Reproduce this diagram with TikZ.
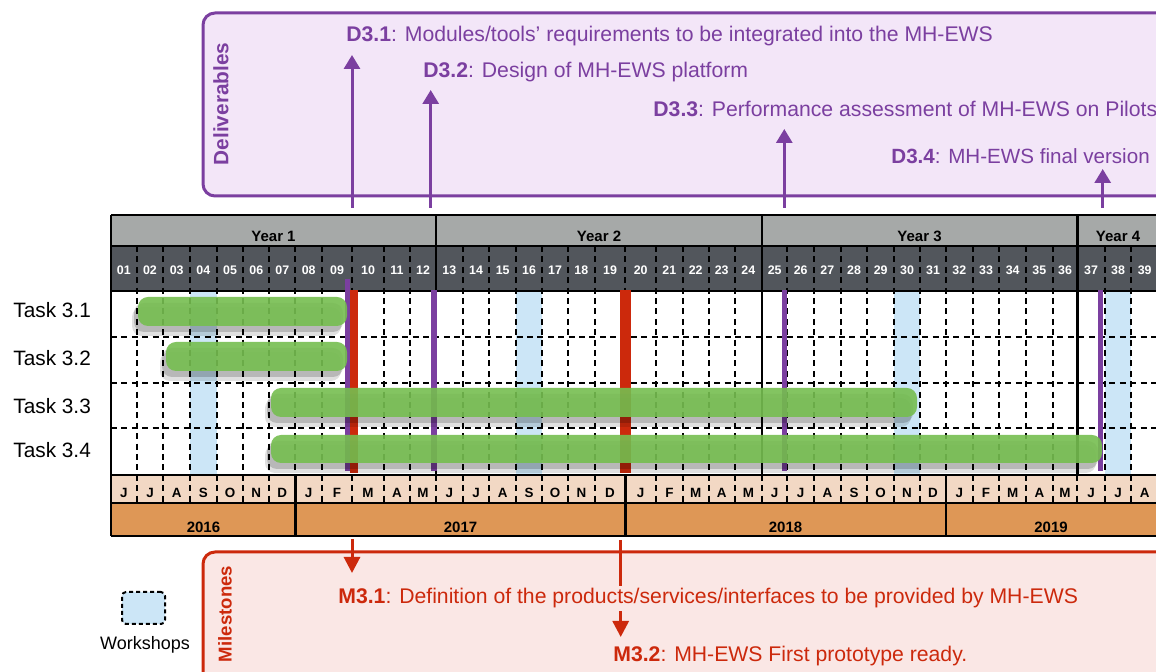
\documentclass[tikz,border=0pt]{standalone}
\usepackage{fontspec}
\setmainfont{Liberation Sans}
\usetikzlibrary{arrows.meta, shadows}

\definecolor{delpurple}{HTML}{7B3FA0}
\definecolor{dellilac}{HTML}{F3E6F8}
\definecolor{msred}{HTML}{CC290C}
\definecolor{mspink}{HTML}{FAE7E5}
\definecolor{yeargray}{HTML}{A6A9A8}
\definecolor{monthgray}{HTML}{52565C}
\definecolor{calpeach}{HTML}{F2D8C4}
\definecolor{calorange}{HTML}{DE9756}
\definecolor{wsblue}{HTML}{CCE6F7}
\definecolor{taskgreen}{HTML}{76BE50}

\tikzstyle{delbox} = [
    rounded corners=6pt,
    line width=1.5pt,
    draw=delpurple,
    fill=dellilac
]
\tikzstyle{msbox} = [
    rounded corners=6pt,
    line width=1.5pt,
    draw=msred,
    fill=mspink
]
\tikzstyle{deltext} = [
    anchor=base west,
    inner sep=0pt,
    text=delpurple,
    font=\fontsize{10.6}{12}\selectfont
]
\tikzstyle{mstext} = [
    anchor=base west,
    inner xsep=0pt,
    inner ysep=1.5pt,
    text=msred,
    fill=mspink,
    font=\fontsize{10.6}{12}\selectfont
]
\tikzstyle{tasklabel} = [
    anchor=base west,
    inner sep=0pt,
    font=\fontsize{10.4}{12}\selectfont
]
\tikzstyle{yearlabel} = [
    anchor=base,
    inner sep=0pt,
    font=\bfseries\fontsize{7.5}{9}\selectfont
]
\tikzstyle{monthnum} = [
    anchor=base,
    inner sep=0pt,
    text=white,
    font=\bfseries\fontsize{6.2}{7}\selectfont
]
\tikzstyle{calmonth} = [
    anchor=base,
    inner sep=0pt,
    font=\bfseries\fontsize{6.7}{8}\selectfont
]
\tikzstyle{gridline} = [line width=1.3pt]
\tikzstyle{dashline} = [line width=1pt, dash pattern=on 3pt off 2.2pt]
\tikzstyle{taskbar} = [
    fill=taskgreen,
    fill opacity=0.9,
    rounded corners=5pt,
    drop shadow={shadow xshift=-3pt, shadow yshift=-5pt, opacity=0.12, fill=black},
    drop shadow={shadow xshift=-2pt, shadow yshift=-3pt, opacity=0.18, fill=black}
]
\tikzstyle{wslegend} = [
    draw,
    dash pattern=on 2pt off 1.5pt,
    line width=1pt,
    fill=wsblue,
    rounded corners=2pt,
    minimum width=21.5pt,
    minimum height=16pt
]
\tikzstyle{delarrow} = [line width=1.5pt, draw=delpurple, -{Triangle[width=8pt,length=7pt]}]
\tikzstyle{msarrow} = [line width=1.5pt, draw=msred, -{Triangle[width=8pt,length=8pt]}]

\begin{document}
\begin{tikzpicture}[x=0.5pt, y=-0.5pt]
\useasboundingbox (0,0) rectangle (1156,672);
\clip (0,0) rectangle (1156,672);

% boxes
\draw [delbox] (203,13) rectangle (1190,196);
\draw [msbox] (203,552) rectangle (1190,700);

% header and calendar rows
\fill [yeargray] (111,215) rectangle (1170,246);
\fill [monthgray] (111,246) rectangle (1170,291);
\fill [calpeach] (111,475) rectangle (1170,503);
\fill [calorange] (111,503) rectangle (1170,536);

% workshops
\foreach \xa/\xb in {190/216.7, 516/542, 894/920, 1104.7/1131.3}
    \fill [wsblue] (\xa,291) rectangle (\xb,475);

% months
\foreach \xa/\xb/\lt [count=\n] in {
    111/136.7/J, 136.7/163.3/J, 163.3/190/A, 190/216.7/S, 216.7/243.3/O,
    243.3/269.3/N, 269.3/295.3/D, 295.3/322/J, 322/352/F, 352/384/M,
    384/410/A, 410/436/M, 436/462.7/J, 462.7/489.3/J, 489.3/516/A,
    516/542/S, 542/568/O, 568/594.7/N, 594.7/625.3/D, 625.3/656/J,
    656/682.7/F, 682.7/708.7/M, 708.7/734.7/A, 734.7/762/M, 762/787.3/J,
    787.3/814/J, 814/840.7/A, 840.7/867.3/S, 867.3/894/O, 894/920/N,
    920/946/D, 946/972.7/J, 972.7/999.3/F, 999.3/1026/M, 1026/1052.7/A,
    1052.7/1077.3/M, 1077.3/1104.7/J, 1104.7/1131.3/J, 1131.3/1158/A} {
    \draw [dashline] (\xb,246) -- (\xb,503);
    \node [monthnum] (mn\n) at ({(\xa+\xb)/2},275) {\ifnum\n<10 0\fi\n};
    \node [calmonth] (cal\n) at ({(\xa+\xb)/2},498) {\lt};
}
\foreach \y in {337,383,428}
    \draw [dashline] (111,\y) -- (1170,\y);

% solid lines
\foreach \y in {215,246,291,475,503,536}
    \draw [gridline] (111,\y) -- (1170,\y);
\draw [gridline] (111,215) -- (111,536);
\foreach \x in {436,762,1077.3}
    \draw [gridline] (\x,215) -- (\x,475);
\foreach \x in {295.3,625.3,946}
    \draw [gridline] (\x,475) -- (\x,536);

% due dates
\fill [delpurple] (345,279) rectangle (350,471);
\fill [delpurple] (431,290) rectangle (437,471);
\fill [delpurple] (782,290) rectangle (787,471);
\fill [delpurple] (1098,290) rectangle (1103,471);
\fill [msred] (350,290) rectangle (358,473);
\fill [msred] (620,290) rectangle (630.7,473);

% tasks
\path [taskbar] (138,297) rectangle (347,326);
\path [taskbar] (166,342) rectangle (347,371);
\path [taskbar] (271,388) rectangle (917,417);
\path [taskbar] (271,435) rectangle (1102,463);

% labels
\node [yearlabel] (yr1) at (273.5,242) {Year 1};
\node [yearlabel] (yr2) at (599,242) {Year 2};
\node [yearlabel] (yr3) at (919.5,242) {Year 3};
\node [yearlabel] (yr4) at (1118,242) {Year 4};
\node [yearlabel] (cy16) at (203.5,533) {2016};
\node [yearlabel] (cy17) at (460.5,533) {2017};
\node [yearlabel] (cy18) at (785.5,533) {2018};
\node [yearlabel] (cy19) at (1051,533) {2019};

\node [tasklabel] (task1) at (13,318) {Task 3.1};
\node [tasklabel] (task2) at (13,366) {Task 3.2};
\node [tasklabel] (task3) at (13,414) {Task 3.3};
\node [tasklabel] (task4) at (13,458) {Task 3.4};

% deliverables
\node [rotate=90, text=delpurple, font=\bfseries\fontsize{10.4}{12}\selectfont]
    (dellabel) at (221,104) {Deliverables};
\node [deltext] (del1) at (346,42)
    {\textbf{D3.1}: Modules/tools’ requirements to be integrated into the MH-EWS};
\node [deltext] (del2) at (423,78)
    {\textbf{D3.2}: Design of MH-EWS platform};
\node [deltext] (del3) at (653,116.5)
    {\textbf{D3.3}: Performance assessment of MH-EWS on Pilots};
\node [deltext, font=\fontsize{10.3}{12}\selectfont] (del4) at (891,164)
    {\textbf{D3.4}: MH-EWS final version};

\coordinate (del1foot) at (352,208);
\coordinate (del1tip) at (352,55);
\coordinate (del2foot) at (430.7,208);
\coordinate (del2tip) at (430.7,90);
\coordinate (del3foot) at (784.3,208);
\coordinate (del3tip) at (784.3,129);
\coordinate (del4foot) at (1102.7,208);
\coordinate (del4tip) at (1102.7,169);
\draw [delarrow] (del1foot) -- (del1tip);
\draw [delarrow] (del2foot) -- (del2tip);
\draw [delarrow] (del3foot) -- (del3tip);
\draw [delarrow] (del4foot) -- (del4tip);

% milestones
\coordinate (ms1foot) at (352,539);
\coordinate (ms1tip) at (352,573);
\coordinate (ms2foot) at (620.7,540);
\coordinate (ms2tip) at (620.7,637);
\draw [msarrow] (ms1foot) -- (ms1tip);
\draw [msarrow] (ms2foot) -- (ms2tip);

\node [rotate=90, text=msred, font=\bfseries\fontsize{9.3}{11}\selectfont]
    (mslabel) at (225,614) {Milestones};
\node [mstext] (ms1) at (338,604)
    {\textbf{M3.1}: Definition of the products/services/interfaces to be provided by MH-EWS};
\node [mstext] (ms2) at (613,661.7)
    {\textbf{M3.2}: MH-EWS First prototype ready.};

% legend
\node [wslegend] (wsbox) at (143.5,608) {};
\node [anchor=base, inner sep=0pt, font=\fontsize{9}{11}\selectfont]
    (wslabel) at (145,650) {Workshops};

\end{tikzpicture}
\end{document}
